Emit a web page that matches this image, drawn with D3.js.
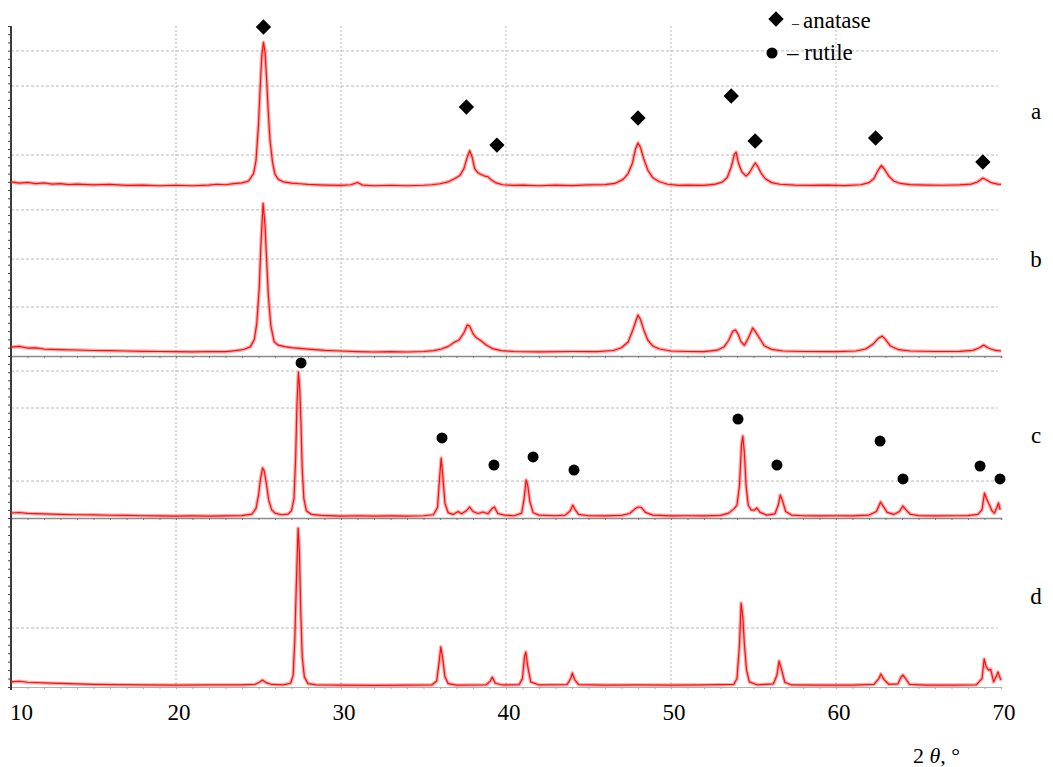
<!DOCTYPE html>
<html>
<head>
<meta charset="utf-8">
<script src="https://cdn.jsdelivr.net/npm/d3@7"></script>
<style>
  html, body { margin: 0; padding: 0; background: #fff; }
  svg { display: block; }
  text { font-family: "Liberation Serif", "DejaVu Serif", serif; fill: #000; }
</style>
</head>
<body>
<svg id="chart" width="1053" height="767"></svg>
<script>
// 2θ tick labels and grid positions
const xTicks = [10, 20, 30, 40, 50, 60, 70];
const xGrid = [20, 30, 40, 50, 60];
const panelNames = ["a", "b", "c", "d"];

// diffraction patterns: [2θ, relative intensity]
const patternA = [[10,4.9],[10.5,4.2],[11,4.6],[11.5,3.9],[12,4.3],[12.5,3.6],[13,3.9],[13.5,3.3],[14,3.6],[15,3.1],[16,3.4],[17,2.8],[18,3.0],[19,2.6],[20,2.9],[21,2.6],[22,3.0],[22.5,3.5],[23,3.2],[23.5,3.9],[24,4.3],[24.4,5.5],[24.7,10],[24.85,18],[25.0,40],[25.1,62],[25.2,82],[25.3,90],[25.4,84],[25.5,66],[25.6,46],[25.7,30],[25.85,17],[26.0,9.5],[26.2,6.5],[26.5,5.0],[27,4.2],[27.5,3.8],[28,3.4],[29,3.0],[30,2.8],[30.6,3.2],[31,4.6],[31.3,3.0],[32,2.6],[33,2.9],[34,2.6],[35,2.9],[35.5,3.2],[36,3.8],[36.5,5.0],[36.9,7.0],[37.2,8.8],[37.45,13],[37.65,20],[37.8,24],[37.95,20],[38.1,13],[38.3,10.5],[38.5,9.5],[38.7,8.5],[38.9,8.2],[39.1,6.2],[39.4,4.3],[39.8,3.2],[40.5,2.8],[41,3.0],[42,2.6],[43,3.0],[44,2.7],[45,3.1],[46,3.3],[46.6,4.0],[47.1,6.5],[47.4,10],[47.65,16],[47.85,25],[48.0,28.7],[48.15,26],[48.35,19],[48.6,12],[48.9,7.5],[49.3,5],[49.8,3.5],[50.5,2.8],[51,3.0],[52,2.8],[52.7,3.6],[53.1,4.8],[53.4,7.5],[53.65,14],[53.85,22],[53.95,23],[54.1,16],[54.3,11],[54.55,8.5],[54.75,10.5],[54.95,14],[55.1,16.5],[55.25,14.5],[55.45,10.5],[55.7,7],[56.1,4.5],[56.6,3.5],[57.5,3.0],[58.5,2.8],[59.5,3.0],[60.5,2.7],[61.5,3.2],[62.0,4.5],[62.3,7],[62.55,12],[62.75,15],[62.95,12.5],[63.2,8.5],[63.5,5.5],[63.9,4.0],[64.5,3.3],[65.5,3.0],[66.5,2.9],[67.5,3.1],[68.2,3.6],[68.6,5],[68.9,7.3],[69.15,6],[69.45,4.3],[69.8,3.6],[70,3.4]];

const patternB = [[10,5.4],[10.5,5.8],[11,4.8],[11.5,4.9],[12,4.2],[13,3.8],[14,3.6],[15,3.3],[16,3.2],[17,3.0],[18,2.8],[19,2.7],[20,2.6],[21,2.5],[22,2.7],[23,2.6],[23.6,3.2],[24.1,3.9],[24.5,5.5],[24.75,10],[24.9,20],[25.05,42],[25.15,68],[25.28,92],[25.4,78],[25.5,56],[25.6,36],[25.75,18],[25.95,8.5],[26.2,6.5],[26.6,5.6],[27,5.0],[27.5,4.6],[28,4.2],[29,3.4],[30,3.0],[31,2.6],[32,2.4],[33,2.6],[34,2.4],[35,2.7],[35.6,3.2],[36.1,4.2],[36.5,5.8],[36.85,8.2],[37.15,9.6],[37.45,14],[37.65,18.7],[37.8,18],[38.0,13.5],[38.2,11],[38.45,9.5],[38.8,6.6],[39.2,4.4],[39.7,3.2],[40.5,2.7],[42,2.5],[44,2.7],[45.5,2.6],[46.5,3.3],[47.0,5],[47.4,8.4],[47.7,16],[47.9,22],[48.0,24.7],[48.15,22],[48.35,15.7],[48.6,9.5],[48.9,6],[49.3,4.2],[50,3.0],[51,2.7],[52,2.6],[52.8,3.5],[53.2,5.4],[53.5,9.5],[53.75,15],[53.9,15.7],[54.05,13.5],[54.25,8.5],[54.45,6.5],[54.7,11],[54.95,16.9],[55.1,15],[55.35,11],[55.65,6.2],[56.1,4.0],[56.8,3.0],[58,2.7],[60,2.6],[61.2,3.0],[61.8,4.2],[62.25,7.2],[62.55,10.5],[62.8,12],[63.0,10],[63.3,6],[63.8,3.8],[64.5,3.0],[66,2.7],[67.5,2.8],[68.3,3.4],[68.7,5],[68.95,6.6],[69.2,5],[69.6,3.5],[70,3.0]];

const patternC = [[10,3.1],[10.5,3.4],[11,2.8],[12,2.5],[13,2.2],[14,2.0],[15,1.9],[16,1.7],[17,1.6],[18,1.4],[19,1.3],[20,1.2],[21,1.3],[22,1.2],[23,1.3],[24,1.5],[24.6,2.4],[24.85,6],[25.0,14],[25.12,24],[25.25,30.9],[25.35,29],[25.48,21],[25.62,11],[25.8,5],[26.0,3.0],[26.4,2.0],[26.8,2.4],[27.0,4.5],[27.15,12],[27.25,36],[27.33,70],[27.42,90],[27.5,80],[27.57,60],[27.65,30],[27.75,12],[27.9,4.5],[28.2,2.2],[28.8,1.6],[30,1.2],[31,1.4],[32,1.2],[33,1.3],[34,1.2],[35,1.4],[35.6,2.0],[35.85,6.5],[35.97,24],[36.07,37],[36.17,26],[36.3,9],[36.5,3.2],[36.8,2.2],[37.1,4.0],[37.3,2.6],[37.6,4.5],[37.8,6.8],[38.0,4.0],[38.3,2.8],[38.6,3.7],[38.9,2.6],[39.15,5.8],[39.3,6.8],[39.5,2.8],[39.9,1.8],[40.5,1.4],[40.95,3.0],[41.1,12],[41.22,23.5],[41.32,20],[41.45,10],[41.65,3.2],[42,1.8],[43,1.4],[43.6,1.8],[43.9,4.5],[44.05,8],[44.2,5],[44.4,2.2],[45,1.4],[46,1.3],[47,1.6],[47.5,2.8],[47.8,5.5],[48.0,6.8],[48.2,6.5],[48.45,3.5],[48.9,1.8],[50,1.3],[51,1.4],[52,1.3],[53,1.6],[53.5,3.0],[53.8,5.5],[54.0,8],[54.15,20],[54.27,45],[54.35,50.6],[54.45,40],[54.55,20],[54.68,8],[54.85,5],[55.05,4.8],[55.2,6.2],[55.4,3.5],[55.8,1.8],[56.3,2.6],[56.5,8],[56.62,14.2],[56.75,11],[56.95,4],[57.3,1.8],[58,1.4],[59,1.3],[60,1.4],[61,1.3],[62,1.8],[62.45,4],[62.7,9.9],[62.85,7.5],[63.1,3.5],[63.5,2.2],[63.85,4],[64.05,7.4],[64.25,5],[64.5,2.3],[65,1.5],[66,1.3],[67,1.4],[68,1.5],[68.6,2.2],[68.85,5],[69.0,15.4],[69.12,12],[69.3,8],[69.45,4.5],[69.6,3.0],[69.75,6.5],[69.85,9.3],[69.95,5]];

const patternD = [[10,3.0],[10.5,3.4],[11,2.8],[12,2.4],[13,2.1],[14,1.8],[15,1.5],[16,1.4],[18,1.2],[20,1.1],[22,1.2],[24,1.2],[24.8,1.6],[25.05,2.8],[25.25,4.1],[25.45,2.6],[25.8,1.5],[26.5,1.3],[26.95,2.2],[27.1,7],[27.2,27.8],[27.3,63],[27.4,94],[27.48,80],[27.56,45],[27.65,18],[27.78,6],[28.0,2.0],[28.5,1.3],[30,1.1],[32,1.0],[34,1.1],[35.5,1.2],[35.8,3.5],[35.95,15],[36.05,23.7],[36.15,18],[36.3,6],[36.5,2.0],[37,1.1],[38.8,1.3],[39.05,3.5],[39.17,5.9],[39.35,2.2],[39.8,1.2],[40.8,1.4],[41.0,5],[41.12,18],[41.2,20.7],[41.32,12],[41.5,3],[42,1.2],[43.7,1.4],[43.92,5],[44.02,8.3],[44.15,4.5],[44.4,1.4],[46,1.1],[48,1.2],[50,1.1],[52,1.2],[53.8,1.5],[54.0,5],[54.15,25],[54.25,49.7],[54.35,42],[54.45,25],[54.58,10],[54.75,3],[55.2,1.3],[56.2,1.8],[56.42,7],[56.55,15.4],[56.68,11],[56.9,2.8],[57.3,1.2],[59,1.1],[61,1.1],[62.3,1.6],[62.6,5],[62.72,7.7],[62.9,4.5],[63.2,1.6],[63.75,1.8],[63.95,6],[64.05,7.1],[64.2,5.3],[64.45,1.6],[65.5,1.1],[67,1.1],[68.5,1.3],[68.85,5],[68.98,16.6],[69.1,12],[69.25,10],[69.38,10.5],[69.55,3],[69.7,6],[69.82,8.9],[69.92,6],[70,4]];

// horizontal grid levels for each pattern
const gridA = [84.8, 63.4, 21.3];
const gridB = [88, 58.4, 29.5];
const gridC = [90.7, 67.9, 22.8];
const gridD = [34.9];

// phase markers: [2θ, level]
const anataseMarks = [[25.3,99.4],[37.6,50.6],[39.45,27.4],[48.0,43.9],[53.65,57.3],[55.1,29.9],[62.4,31.7],[68.9,17.1]]; // on pattern a
const rutileMarks = [[27.58,95.7],[36.12,49.4],[39.27,32.7],[41.64,37.7],[44.12,29.6],[54.06,61.1],[56.42,32.7],[62.67,47.5],[64.06,24.1],[68.73,32.1],[69.94,24.1]]; // on pattern c

const legendItems = [["diamond", "anatase"], ["circle", "rutile"]];

// ---- layout ----
const svg = d3.select("#chart");
const x = d3.scaleLinear().domain([10, 70]).range([11, 1001]);

const panels = [
  { name: panelNames[0], data: patternA, grid: gridA, top: 26,  bottom: 190, labelY: 119, axisLine: false },
  { name: panelNames[1], data: patternB, grid: gridB, top: 190, bottom: 356, labelY: 267, axisLine: true },
  { name: panelNames[2], data: patternC, grid: gridC, top: 356, bottom: 518, labelY: 443, axisLine: true },
  { name: panelNames[3], data: patternD, grid: gridD, top: 518, bottom: 687, labelY: 604, axisLine: true }
];
panels.forEach(p => { p.y = d3.scaleLinear().domain([0, 100]).range([p.bottom, p.top]); });

const gridColor = "#b9b9b9";

// vertical grid
svg.append("g").selectAll("line").data(xGrid).join("line")
  .attr("x1", d => x(d)).attr("x2", d => x(d))
  .attr("y1", 26).attr("y2", 690)
  .attr("stroke", gridColor).attr("stroke-width", 1)
  .attr("stroke-dasharray", "2,2");

// horizontal grid per panel
panels.forEach(p => {
  svg.append("g").selectAll("line").data(p.grid).join("line")
    .attr("x1", x(10)).attr("x2", x(69.8))
    .attr("y1", d => p.y(d)).attr("y2", d => p.y(d))
    .attr("stroke", gridColor).attr("stroke-width", 1)
    .attr("stroke-dasharray", "3,2");
});

// bottom axis lines with 1° minor ticks
panels.filter(p => p.axisLine).forEach((p, i, arr) => {
  const last = i === arr.length - 1;
  const axis = d3.axisBottom(x).tickValues(d3.range(10, 71, 1)).tickSize(2).tickFormat("");
  const g = svg.append("g").attr("transform", `translate(0,${p.bottom})`).call(axis);
  g.select(".domain").attr("stroke", last ? "#b0b0b0" : "#8c8c8c").attr("stroke-width", last ? 1.2 : 1.6);
  g.selectAll(".tick line").attr("stroke", last ? "#aaa" : "#777");
});

// left axis with minor ticks
panels.forEach(p => {
  const axis = d3.axisLeft(p.y).ticks(25).tickSize(3).tickFormat("");
  const g = svg.append("g").attr("transform", `translate(${x(10)},0)`).call(axis);
  g.select(".domain").remove();
  g.selectAll(".tick line").attr("stroke", "#444");
});
svg.append("line")
  .attr("x1", x(10)).attr("x2", x(10)).attr("y1", 26).attr("y2", 690)
  .attr("stroke", "#3a3a3a").attr("stroke-width", 2);

// diffraction traces: a soft band under a thin core line
panels.forEach(p => {
  const line = d3.line().x(d => x(d[0])).y(d => p.y(d[1]));
  svg.append("path").datum(p.data)
    .attr("d", line).attr("fill", "none")
    .attr("stroke", "rgba(255,40,40,0.4)").attr("stroke-width", 3.6)
    .attr("stroke-linejoin", "round");
  svg.append("path").datum(p.data)
    .attr("d", line).attr("fill", "none")
    .attr("stroke", "#ff0d0d").attr("stroke-width", 1.2)
    .attr("stroke-linejoin", "round");
});

// phase markers
const pa = panels[0], pc = panels[2];
svg.append("g").selectAll("path").data(anataseMarks).join("path")
  .attr("d", d3.symbol().type(d3.symbolSquare).size(118))
  .attr("transform", d => `translate(${x(d[0])},${pa.y(d[1])}) rotate(45)`)
  .attr("fill", "#000");
svg.append("g").selectAll("circle").data(rutileMarks).join("circle")
  .attr("cx", d => x(d[0])).attr("cy", d => pc.y(d[1]))
  .attr("r", 5.5).attr("fill", "#000");

// panel letters
svg.append("g").selectAll("text").data(panels).join("text")
  .attr("x", 1036).attr("y", d => d.labelY)
  .attr("text-anchor", "middle")
  .style("font-size", "23px")
  .text(d => d.name);

// x tick labels
svg.append("g").selectAll("text").data(xTicks).join("text")
  .attr("x", d => d === 10 ? x(d) - 1 : x(d) + 3)
  .attr("y", 720)
  .attr("text-anchor", d => d === 10 ? "start" : "middle")
  .style("font-size", "23px")
  .text(d => d);

// x axis title
const title = svg.append("text").attr("x", 913).attr("y", 763).style("font-size", "22px");
title.append("tspan").text("2 ");
title.append("tspan").style("font-style", "italic").text("θ");
title.append("tspan").text(", °");

// legend
const legend = svg.append("g");
legendItems.forEach((it, i) => {
  const cy = i === 0 ? 19 : 53;
  if (it[0] === "diamond") {
    legend.append("path")
      .attr("d", d3.symbol().type(d3.symbolSquare).size(118))
      .attr("transform", `translate(776,${cy}) rotate(45)`)
      .attr("fill", "#000");
    const t = legend.append("text").attr("x", 792).attr("y", 28).style("font-size", "23px");
    t.append("tspan").style("font-size", "14px").text("–");
    t.append("tspan").attr("dx", 4).text(it[1]);
  } else {
    legend.append("circle").attr("cx", 772).attr("cy", cy).attr("r", 5.5).attr("fill", "#000");
    legend.append("text").attr("x", 787).attr("y", 60).style("font-size", "23px")
      .text("– " + it[1]);
  }
});
</script>
</body>
</html>
